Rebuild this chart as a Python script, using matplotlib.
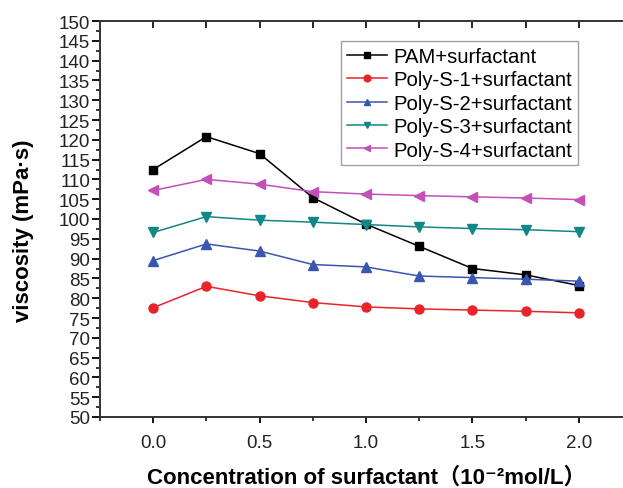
import matplotlib
matplotlib.use("Agg")
import matplotlib.pyplot as plt
from matplotlib.ticker import MultipleLocator

plt.rcParams['font.family'] = ['Liberation Sans', 'Noto Sans CJK SC', 'DejaVu Sans']

conc = [0.0, 0.25, 0.5, 0.75, 1.0, 1.25, 1.5, 1.75, 2.0]
pam = [112.5, 120.8, 116.5, 105.4, 98.7, 93.1, 87.5, 85.9, 83.2]
s1 = [77.6, 83.0, 80.6, 78.9, 77.8, 77.3, 77.0, 76.7, 76.3]
s2 = [89.5, 93.7, 91.9, 88.5, 87.9, 85.6, 85.2, 84.8, 84.3]
s3 = [96.6, 100.6, 99.7, 99.2, 98.6, 98.0, 97.6, 97.3, 96.8]
s4 = [107.2, 110.0, 108.8, 106.9, 106.3, 105.9, 105.6, 105.3, 104.9]
labels = ['PAM+surfactant', 'Poly-S-1+surfactant', 'Poly-S-2+surfactant',
          'Poly-S-3+surfactant', 'Poly-S-4+surfactant']
xticks = [0.0, 0.5, 1.0, 1.5, 2.0]
yticks = list(range(50, 151, 5))

fig = plt.figure(figsize=(6.23, 4.89), dpi=100)
ax = fig.add_axes([100/623, 1-418/489, 532/623, 396/489])

series = [pam, s1, s2, s3, s4]
colors = ['black', '#e8242a', '#3a56b0', '#138787', '#c44fb8']
markers = ['s', 'o', '^', 'v', '<']
sizes = [5.5, 6.5, 6.5, 6.5, 6.5]
for ys, c, m, ms, lab in zip(series, colors, markers, sizes, labels):
    ax.plot(conc, ys, color=c, marker=m, markersize=ms, linewidth=1.1, label=lab)

ax.set_xlim(-0.25, 2.25)
ax.set_ylim(50, 150)
ax.set_xticks(xticks)
ax.set_xticklabels([f'{v:.1f}' for v in xticks])
ax.xaxis.set_minor_locator(MultipleLocator(0.25))
ax.set_yticks(yticks)
ax.yaxis.set_minor_locator(MultipleLocator(2.5))
ax.tick_params(axis='both', which='major', direction='out', width=1.3, labelsize=13.5, labelcolor='#222222')
ax.tick_params(axis='y', which='major', length=6, pad=1)
ax.tick_params(axis='x', which='major', length=4, pad=8)
ax.tick_params(axis='both', which='minor', direction='out', length=3, width=1.1)
for sp in ax.spines.values():
    sp.set_linewidth(1.4)
    sp.set_color('#333333')

top = ax.secondary_xaxis('top')
top.set_xticks(conc)
top.set_xticklabels([])
top.tick_params(direction='in', length=5, width=1.2)
top.spines['top'].set_visible(False)

ax.set_ylabel('viscosity (mPa·s)', fontsize=16, fontweight='bold')
ax.yaxis.set_label_coords(-0.124, 0.472)
ax.set_xlabel('Concentration of surfactant（10⁻²mol/L）', fontsize=16, fontweight='bold')
ax.xaxis.set_label_coords(0.5, -(478-418)/396, transform=ax.transAxes)
ax.xaxis.label.set_verticalalignment('center')

leg = ax.legend(loc='upper right', bbox_to_anchor=(578/623, 1-42/489), bbox_transform=fig.transFigure,
                fontsize=14.6, frameon=True, fancybox=False, edgecolor='#888888',
                handlelength=2.0, markerscale=0.75, borderpad=0.28, labelspacing=0.22,
                handletextpad=0.3, borderaxespad=0)
leg.get_frame().set_linewidth(1.0)

fig.savefig('out.png', dpi=100)
